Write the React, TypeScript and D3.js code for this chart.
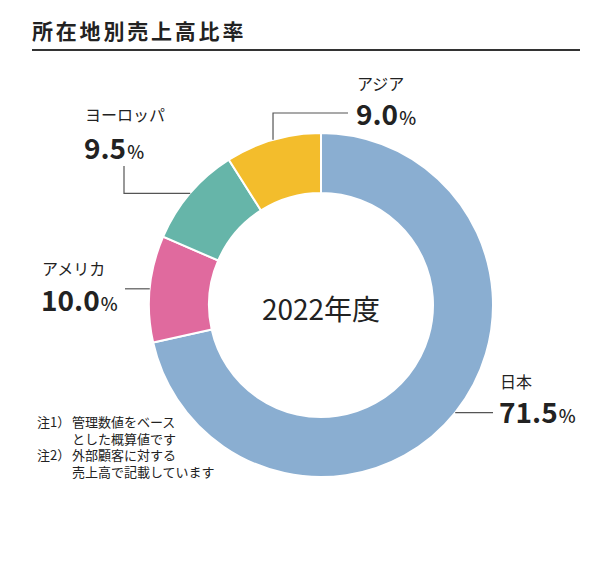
import React from "react";
import * as d3 from "d3";

const categories = ["日本", "アメリカ", "ヨーロッパ", "アジア"];
const values = [71.5, 10.0, 9.5, 9.0];
const colors = ["#8aaed1", "#e06a9e", "#66b5a9", "#f3bd2c"];
const valueLabels = ["71.5", "10.0", "9.5", "9.0"];
const title = "所在地別売上高比率";
const centerLabel = "2022年度";
const notes = [
  ["注1）", "管理数値をベース"],
  ["", "とした概算値です"],
  ["注2）", "外部顧客に対する"],
  ["", "売上高で記載しています"],
];

const W = 604;
const H = 578;
const cx = 321;
const cy = 305;
const R = 172;
const r = 112;
const FONT = "'Noto Sans CJK JP', 'Noto Sans', sans-serif";

// label layout: text anchor position and leader route
const labelLayout = [
  { x: 500, nameY: 388, valY: 423, route: (p: number[]) => [p, [493, p[1]]] },
  { x: 42, nameY: 275, valY: 311, route: (p: number[]) => [p, [125, p[1]]] },
  { x: 85, nameY: 121, valY: 159, route: (p: number[]) => [p, [124, p[1]], [124, 166]] },
  { x: 357, nameY: 90, valY: 125, route: (p: number[]) => [p, [p[0], 113], [348, 113]] },
];

export default function App() {
  const pie = d3.pie<number>().sort(null).value((d) => d);
  const arcs = pie(values);
  const arcGen = d3.arc<d3.PieArcDatum<number>>().innerRadius(r).outerRadius(R);
  const line = d3.line();

  return (
    <svg
      width={W}
      height={H}
      viewBox={`0 0 ${W} ${H}`}
      style={{ position: "absolute", left: 0, top: 0, background: "#fff" }}
      fontFamily={FONT}
    >
      <text x={32} y={39} fontSize={21} fontWeight={700} fill="#222" letterSpacing={2.8}>
        {title}
      </text>
      <line x1={32} x2={580} y1={50} y2={50} stroke="#333" strokeWidth={2} />

      <g transform={`translate(${cx},${cy})`}>
        {arcs.map((a, i) => (
          <path key={i} d={arcGen(a) || ""} fill={colors[i]} stroke="#fff" strokeWidth={2} />
        ))}
      </g>

      {arcs.map((a, i) => {
        const mid = (a.startAngle + a.endAngle) / 2;
        const p = [cx + R * Math.sin(mid), cy - R * Math.cos(mid)];
        const L = labelLayout[i];
        const pts = L.route(p) as [number, number][];
        return (
          <g key={i}>
            <path d={line(pts) || ""} fill="none" stroke="#555" strokeWidth={1.2} />
            <text x={L.x} y={L.nameY} fontSize={16} fill="#222">
              {categories[i]}
            </text>
            <text x={L.x - 1} y={L.valY} fill="#222">
              <tspan fontSize={28} fontWeight={700}>
                {valueLabels[i]}
              </tspan>
              <tspan fontSize={18} fontWeight={500} dx={1}>
                %
              </tspan>
            </text>
          </g>
        );
      })}

      <text x={cx} y={320} fontSize={28} textAnchor="middle" fill="#222">
        {centerLabel}
      </text>

      {notes.map((n, i) => (
        <g key={i}>
          {n[0] && (
            <text x={37} y={427 + i * 16.5} fontSize={13} fill="#222">
              {n[0]}
            </text>
          )}
          <text x={72} y={427 + i * 16.5} fontSize={13} fill="#222">
            {n[1]}
          </text>
        </g>
      ))}
    </svg>
  );
}
